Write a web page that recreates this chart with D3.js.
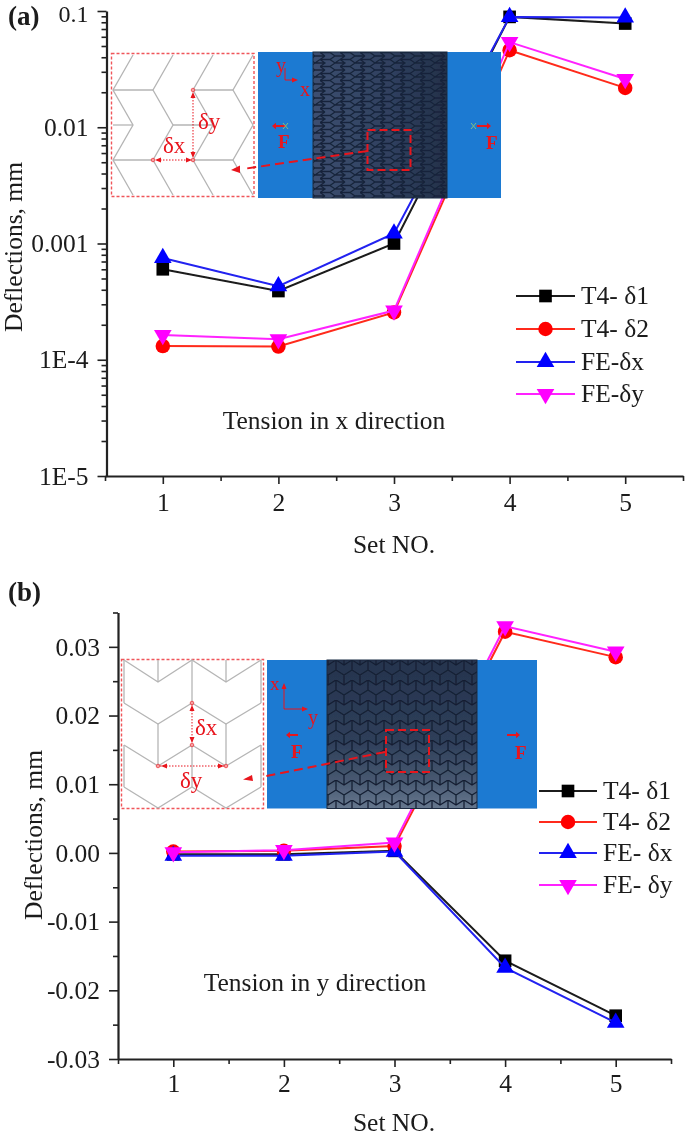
<!DOCTYPE html>
<html><head><meta charset="utf-8">
<script src="https://cdn.jsdelivr.net/npm/d3@7"></script>
<style>html,body{margin:0;background:#fff}svg{display:block}text{font-family:"Liberation Serif",serif;fill:#1a1a1a}</style>
</head><body><svg id="c" width="685" height="1137"></svg>
<script>
const sets=[1,2,3,4,5];
const aT4d1=[6.0e-4,3.9e-4,1.0e-3,0.089,0.078];
const aT4d2=[1.31e-4,1.30e-4,2.55e-4,0.046,0.0218];
const aFEx=[7.5e-4,4.3e-4,1.22e-3,0.089,0.088];
const aFEy=[1.63e-4,1.5e-4,2.65e-4,0.054,0.026];
const bT4d1=[-0.0002,-0.0002,0.0003,-0.0157,-0.0237];
const bT4d2=[0.0002,0.0003,0.0010,0.0322,0.0285];
const bFEx=[-0.0004,-0.0004,0.0002,-0.0167,-0.0247];
const bFEy=[0.0001,0.0004,0.0015,0.0330,0.0293];
const aTicks=[1e-5,1e-4,1e-3,1e-2,1e-1];
const aTickLabels=["1E-5","1E-4","0.001","0.01","0.1"];
const bTicks=[-0.03,-0.02,-0.01,0,0.01,0.02,0.03];
const bTickLabels=["-0.03","-0.02","-0.01","0.00","0.01","0.02","0.03"];
const legendA=["T4- δ1","T4- δ2","FE-δx","FE-δy"];
const legendB=["T4- δ1","T4- δ2","FE- δx","FE- δy"];
const colors=["#000000","#ff0000","#0000ff","#ff00ff"];
const lineColors=["#1a1a1a","#ff2a1a","#2020f0","#ff22ff"];
const symbols=[d3.symbolSquare,d3.symbolCircle,d3.symbolTriangle,d3.symbolTriangle];
const symSize=[160,165,135,135];
const RED="#e8121c";

const svg=d3.select("#c");
const defs=svg.append("defs");
defs.append("filter").attr("id","soft").append("feGaussianBlur").attr("stdDeviation",0.45);
function pat(id,w,h,d,stroke){
  const p=defs.append("pattern").attr("id",id).attr("patternUnits","userSpaceOnUse").attr("width",w).attr("height",h);
  p.append("path").attr("d",d).attr("fill","none").attr("stroke",stroke).attr("stroke-width",1.3);
}
pat("meshA",20,14,"M5 0L0 3.5L5 7L0 10.5L5 14M15 0L10 3.5L15 7L10 10.5L15 14M20 3.5L15 7M0 3.5H10M0 10.5H10M0 7H5M15 7H20M0 0H5M15 0H20M0 14H5M15 14H20","#17243a");
pat("meshB",16,20,"M0 0L8 5L16 0M0 10L8 15L16 10M0 0V10M16 0V10M8 15V20M8 0V5","#141f33");
const gB=defs.append("linearGradient").attr("id","baseB").attr("x1",0).attr("x2",0).attr("y1",0).attr("y2",1);
[[0,"#26344e"],[0.55,"#2f3f5a"],[0.8,"#46576f"],[1,"#66778e"]].forEach(s=>gB.append("stop").attr("offset",s[0]).attr("stop-color",s[1]));
const gA=defs.append("linearGradient").attr("id","baseA");
[[0,"#3d4f70"],[0.6,"#2f3f5e"],[1,"#233149"]].forEach(s=>gA.append("stop").attr("offset",s[0]).attr("stop-color",s[1]));

const root=svg.append("g").attr("filter","url(#soft)");

function panel(o){
  const g=root.append("g");
  const x=d3.scaleLinear().domain([0.5,5.5]).range(o.xr);
  const y=o.y;
  const ax=g.append("g").attr("transform",`translate(0,${o.yb})`);
  ax.call(d3.axisBottom(x).tickValues(sets).tickSize(8).tickSizeOuter(0).tickPadding(8).tickFormat(d3.format("d")));
  ax.append("g").call(d3.axisBottom(x).tickValues([0.5,1.5,2.5,3.5,4.5,5.5]).tickSize(5).tickSizeOuter(0).tickFormat("")).select(".domain").remove();
  ax.selectAll("line").attr("stroke","#222").attr("stroke-width",1.6);
  ax.selectAll(".domain").attr("stroke","#222").attr("stroke-width",2.2);
  ax.selectAll("text").attr("font-size",o.fs).attr("fill","#1a1a1a").attr("dy",0).attr("y",o.xLabelY-o.yb);
  const ay=g.append("g").attr("transform",`translate(${o.yAxisX},0)`);
  ay.call(d3.axisLeft(y).tickValues(o.ticks).tickSize(9).tickSizeOuter(0).tickPadding(9).tickFormat((d,i)=>o.labels[i]));
  ay.append("g").call(d3.axisLeft(y).tickValues(o.minor).tickSize(5).tickSizeOuter(0).tickFormat("")).select(".domain").remove();
  ay.selectAll("line").attr("stroke","#222").attr("stroke-width",1.6);
  ay.selectAll(".domain").attr("stroke","#222").attr("stroke-width",2.2);
  ay.selectAll("text").attr("font-size",o.fs).attr("fill","#1a1a1a").attr("dy","0.32em");
  if(o.topTick!==undefined) ay.selectAll(".tick text").filter(d=>d===o.topTick).attr("font-size",24).attr("dy","0.45em");
  const line=d3.line().x((d,i)=>x(sets[i])).y(d=>y(d));
  o.series.forEach((s,k)=>{
    g.append("path").attr("d",line(s)).attr("fill","none").attr("stroke",lineColors[k]).attr("stroke-width",2);
    g.selectAll(null).data(s).join("path")
      .attr("d",d3.symbol().type(symbols[k]).size(symSize[k]))
      .attr("fill",colors[k])
      .attr("transform",(d,i)=>`translate(${x(sets[i])},${y(d)})`+(k==3?" rotate(180)":""));
  });
  g.append("text").attr("x",o.xTitleX).attr("y",o.xTitleY).attr("text-anchor","middle").attr("font-size",o.fs).text("Set NO.");
  g.append("text").attr("transform",`translate(${o.yTitleX},${o.yTitleY}) rotate(-90)`).attr("text-anchor","middle").attr("font-size",o.fs).text("Deflections, mm");
  g.append("text").attr("x",o.noteX).attr("y",o.noteY).attr("text-anchor","middle").attr("font-size",o.fs).text(o.note);
  g.append("text").attr("x",8).attr("y",o.tagY).attr("font-size",o.tagFs).attr("font-weight","bold").text(o.tag);
  o.legend.forEach((t,k)=>{
    const ly=o.legY[k];
    g.append("line").attr("x1",o.legX[0]).attr("x2",o.legX[1]).attr("y1",ly).attr("y2",ly).attr("stroke",lineColors[k]).attr("stroke-width",2);
    g.append("path").attr("d",d3.symbol().type(symbols[k]).size(symSize[k]))
      .attr("fill",colors[k]).attr("transform",`translate(${(o.legX[0]+o.legX[1])/2},${ly})`+(k==3?" rotate(180)":""));
    g.append("text").attr("x",o.legX[1]+6).attr("y",ly+8).attr("font-size",o.fs).text(t);
  });
}
function arrow(g,x1,y1,x2,y2,sz=4){
  const a=Math.atan2(y2-y1,x2-x1);
  g.append("line").attr("x1",x1).attr("y1",y1).attr("x2",x2).attr("y2",y2).attr("stroke",RED).attr("stroke-width",2);
  const p=[[x2+Math.cos(a)*sz,y2+Math.sin(a)*sz],[x2-Math.sin(a)*sz*.8,y2+Math.cos(a)*sz*.8],[x2+Math.sin(a)*sz*.8,y2-Math.cos(a)*sz*.8]];
  g.append("polygon").attr("points",p.join(" ")).attr("fill",RED);
}
function rtext(g,t,x,y,s,b){g.append("text").attr("x",x).attr("y",y).attr("font-size",s).attr("font-weight",b?"bold":"normal").style("fill",RED).text(t);}
function poly(g,pts,c="#b5b5b5"){g.append("polyline").attr("points",pts.join(" ")).attr("fill","none").attr("stroke",c).attr("stroke-width",1.3);}
function dot(g,x,y){g.append("circle").attr("cx",x).attr("cy",y).attr("r",1.8).attr("fill","#f7a0a0").attr("stroke",RED).attr("stroke-width",.6);}

const lv=[];aTicks.slice(0,-1).forEach(d=>{for(let m=2;m<10;m++)lv.push(d*m)});
panel({xr:[105,683],yAxisX:106.5,yb:476,xLabelY:511,xTitleX:394,xTitleY:553,yTitleX:22,yTitleY:247,
  y:d3.scaleLog().domain([1e-5,0.1]).range([476,11]),ticks:aTicks,labels:aTickLabels,minor:lv,topTick:1e-1,
  series:[aT4d1,aT4d2,aFEx,aFEy],legend:legendA,legX:[516,575],legY:[296,329,362,394],
  note:"Tension in x direction",noteX:334,noteY:429,tag:"(a)",tagY:24.5,tagFs:27,fs:25.5});
panel({xr:[118,671],yAxisX:118,yb:1059,xLabelY:1092,xTitleX:394,xTitleY:1131,yTitleX:42,yTitleY:835,
  y:d3.scaleLinear().domain([-0.03,0.035]).range([1059,612.5]),ticks:bTicks,labels:bTickLabels,
  minor:[-0.025,-0.015,-0.005,0.005,0.015,0.025,0.035],
  series:[bT4d1,bT4d2,bFEx,bFEy],legend:legendB,legX:[539,597],legY:[791,822,853,885],
  note:"Tension in y direction",noteX:315,noteY:991,tag:"(b)",tagY:601,tagFs:27,fs:25.5});

(function(){
  const g=root.append("g");
  g.append("rect").attr("x",111.5).attr("y",53.5).attr("width",142.5).attr("height",143).attr("fill","#fff").attr("stroke","#f0555a").attr("stroke-width",1.4).attr("stroke-dasharray","3 2");
  const X=[133,173,213,253],Y=[55,90,125,160,195];
  X.forEach(t=>poly(g,[[t,Y[0]],[t-20,Y[1]],[t,Y[2]],[t-20,Y[3]],[t,Y[4]]]));
  [Y[1],Y[3]].forEach(yy=>{poly(g,[[113,yy],[153,yy]]);poly(g,[[193,yy],[233,yy]]);});
  poly(g,[[113,Y[2]],[133,Y[2]]]);poly(g,[[173,Y[2]],[213,Y[2]]]);
  g.append("rect").attr("x",258).attr("y",52).attr("width",243).attr("height",146).attr("fill","#1f7ad2");
  g.append("rect").attr("x",313).attr("y",52).attr("width",134).attr("height",146).attr("fill","url(#baseA)");
  g.append("rect").attr("x",313).attr("y",52).attr("width",134).attr("height",146).attr("fill","url(#meshA)").attr("stroke","#1c2a40");
  g.append("line").attr("x1",193).attr("x2",193).attr("y1",97).attr("y2",153).attr("stroke",RED).attr("stroke-dasharray","1.5 1.5").attr("stroke-width",1);
  g.append("line").attr("x1",157).attr("x2",188).attr("y1",160).attr("y2",160).attr("stroke",RED).attr("stroke-dasharray","1.5 1.5").attr("stroke-width",1);
  dot(g,193,90);dot(g,193,160);dot(g,153,160);
  g.append("polygon").attr("points","193,92 190.5,98 195.5,98").attr("fill",RED);
  g.append("polygon").attr("points","193,158 190.5,152 195.5,152").attr("fill",RED);
  g.append("polygon").attr("points","155,160 161,157.5 161,162.5").attr("fill",RED);
  g.append("polygon").attr("points","192,160 186,157.5 186,162.5").attr("fill",RED);
  rtext(g,"δy",198,129,23);rtext(g,"δx",163,153,23);
  rtext(g,"y",276,72,20);rtext(g,"x",300,96,20);
  g.append("path").attr("d","M285 68 V80 H294").attr("fill","none").attr("stroke",RED);
  g.append("polygon").attr("points","298,80 292,77.5 292,82.5").attr("fill",RED);
  rtext(g,"F",278,148,19,true);rtext(g,"F",486,149,19,true);
  arrow(g,286,126,276,126);arrow(g,477,126,487,126);
  g.append("path").attr("d","M283 123 l5 6 M288 123 l-5 6 M471 123 l5 6 M476 123 l-5 6").attr("stroke","#7fbf7f").attr("fill","none");
  g.append("line").attr("x1",367).attr("y1",151).attr("x2",243).attr("y2",169).attr("stroke",RED).attr("stroke-width",2).attr("stroke-dasharray","9 5");
  g.append("polygon").attr("points","231,170 240,165.5 240,173").attr("fill",RED);
  g.append("rect").attr("x",367.5).attr("y",130).attr("width",43).attr("height",40).attr("fill","none").attr("stroke",RED).attr("stroke-width",2).attr("stroke-dasharray","8 4");
})();
(function(){
  const g=root.append("g");
  g.append("rect").attr("x",121.5).attr("y",659.5).attr("width",142).attr("height",149).attr("fill","#fff").attr("stroke","#f0555a").attr("stroke-width",1.4).attr("stroke-dasharray","3 2");
  const X=[124,158,192,226,261];
  const rows=[[660,682],[703,724],[745,766],[787,808]];
  rows.forEach(r=>poly(g,X.map((t,i)=>[t,i%2?r[1]:r[0]])));
  [[X[0],660,703],[X[0],745,787],[X[4],660,703],[X[4],745,787],[X[2],660,703],[X[2],745,787],[X[1],660,682],[X[3],660,682],[X[1],724,766],[X[3],724,766]]
    .forEach(v=>poly(g,[[v[0],v[1]],[v[0],v[2]]]));
  g.append("rect").attr("x",267).attr("y",660).attr("width",270).attr("height",148.5).attr("fill","#1f7ad2");
  g.append("rect").attr("x",327).attr("y",660).attr("width",150).attr("height",148.5).attr("fill","url(#baseB)");
  g.append("rect").attr("x",327).attr("y",660).attr("width",150).attr("height",148.5).attr("fill","url(#meshB)").attr("stroke","#1c2a40");
  g.append("line").attr("x1",192).attr("x2",192).attr("y1",704).attr("y2",742).attr("stroke",RED).attr("stroke-dasharray","1.5 1.5");
  g.append("line").attr("x1",160).attr("x2",225).attr("y1",766).attr("y2",766).attr("stroke",RED).attr("stroke-dasharray","1.5 1.5");
  dot(g,192,703);dot(g,192,745);dot(g,158,766);dot(g,226,766);
  g.append("polygon").attr("points","192,705 189.5,711 194.5,711").attr("fill",RED);
  g.append("polygon").attr("points","192,743 189.5,737 194.5,737").attr("fill",RED);
  g.append("polygon").attr("points","161,766 167,763.5 167,768.5").attr("fill",RED);
  g.append("polygon").attr("points","224,766 218,763.5 218,768.5").attr("fill",RED);
  rtext(g,"δx",195,735,23);rtext(g,"δy",180,788,23);
  rtext(g,"x",270,690,19);rtext(g,"y",308,724,20);
  g.append("path").attr("d","M284 688 V709 H303").attr("fill","none").attr("stroke",RED);
  g.append("polygon").attr("points","284,683 281.5,689 286.5,689").attr("fill",RED);
  g.append("polygon").attr("points","308,709 302,706.5 302,711.5").attr("fill",RED);
  rtext(g,"F",291,758,19,true);rtext(g,"F",515,759,19,true);
  arrow(g,298,735,290,735);arrow(g,507,735,516,735);
  g.append("line").attr("x1",385).attr("y1",752).attr("x2",262).attr("y2",777).attr("stroke",RED).attr("stroke-width",2).attr("stroke-dasharray","9 5");
  g.append("polygon").attr("points","243,779.5 252,775 253,781").attr("fill",RED);
  g.append("rect").attr("x",386).attr("y",730).attr("width",43).attr("height",42).attr("fill","none").attr("stroke",RED).attr("stroke-width",2).attr("stroke-dasharray","8 4");
})();
</script></body></html>
